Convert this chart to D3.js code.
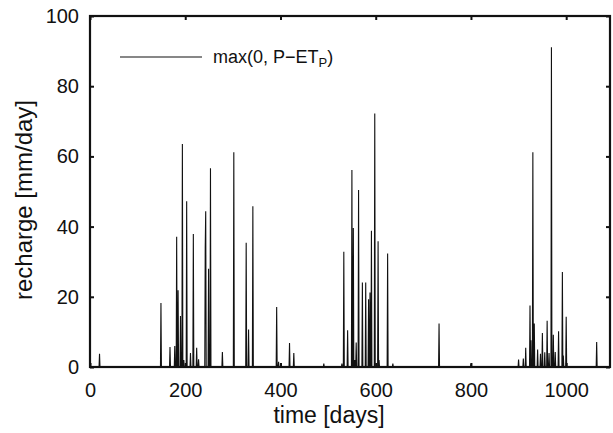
<!DOCTYPE html>
<html>
<head>
<meta charset="utf-8">
<script src="https://cdn.jsdelivr.net/npm/d3@7"></script>
<style>
  body { margin: 0; background: #fff; }
  svg text { font-family: "Liberation Sans", Arial, sans-serif; fill: #111; }
</style>
</head>
<body>
<div id="chart"></div>
<script>
// days with non-zero recharge, and the recharge on those days [mm/day]
const rainDays = [20,149,168,178,182,185,190,194,197,203,211,217,224,228,242,243,249,253,278,302,
  328,333,342,392,396,419,428,491,529,533,541,550,553,556,559,564,572,579,585,588,
  591,598,605,607,625,636,733,800,900,910,915,924,926,930,933,940,946,950,955,960,
  964,969,973,977,984,992,994,1000,1064];
const rechargeVals = [3.8,18.2,5.7,6,37.1,21.9,14.5,63.5,2,47.2,4,37.9,5.5,2.2,34,44.4,28,56.6,4.3,61.2,
  35.4,10.7,45.8,17.1,1.5,6.8,4,1,1,32.8,10.5,56.1,39.6,2,7,50.4,24.1,24.1,19.3,21.2,
  38.8,72.2,35.8,2,32.3,1,12.4,1,2.1,2.4,5.5,17.5,7.6,61.2,12.4,5,3.8,9.7,4.2,13.2,
  4,91.1,9.2,4.3,10.2,27.1,3.3,14.3,7.1];
const xTicks = [0, 200, 400, 600, 800, 1000];
const yTicks = [0, 20, 40, 60, 80, 100];
const nDays = 1092;

const width = 613, height = 433;
const margin = {top: 16, right: 3, bottom: 66, left: 90};
const innerW = width - margin.left - margin.right;
const innerH = height - margin.top - margin.bottom;

// full daily series, zero on days without recharge
const byDay = new Map(rainDays.map((d, i) => [d, rechargeVals[i]]));
const series = d3.range(0, nDays + 1).map(d => ({day: d, val: byDay.get(d) || 0}));

const svg = d3.select('#chart').append('svg')
    .attr('width', width).attr('height', height);
const g = svg.append('g').attr('transform', `translate(${margin.left},${margin.top})`);

const x = d3.scaleLinear().domain([0, nDays]).range([0, innerW]);
const y = d3.scaleLinear().domain([0, 100]).range([innerH, 0]);

// data line
const line = d3.line().x(d => x(d.day)).y(d => y(d.val));
g.append('path').datum(series)
    .attr('d', line)
    .attr('fill', 'none').attr('stroke', '#111').attr('stroke-width', 1.1);

// axes (ticks pointing inwards, box on)
const tickLen = 4;
const fmt = d3.format('d');
const axB = g.append('g').attr('transform', `translate(0,${innerH})`)
    .call(d3.axisBottom(x).tickValues(xTicks).tickSize(-tickLen).tickPadding(16).tickFormat(fmt));
const axT = g.append('g')
    .call(d3.axisTop(x).tickValues(xTicks).tickSize(-tickLen).tickFormat(''));
const axL = g.append('g')
    .call(d3.axisLeft(y).tickValues(yTicks).tickSize(-tickLen).tickPadding(11).tickFormat(fmt));
const axR = g.append('g').attr('transform', `translate(${innerW},0)`)
    .call(d3.axisRight(y).tickValues(yTicks).tickSize(-tickLen).tickFormat(''));
[axB, axT, axL, axR].forEach(a => {
  a.select('.domain').remove();
  a.selectAll('line').attr('stroke', '#111').attr('stroke-width', 2);
  a.selectAll('text').attr('font-size', 20).attr('fill', '#111');
});

g.append('rect').attr('width', innerW).attr('height', innerH)
    .attr('fill', 'none').attr('stroke', '#111').attr('stroke-width', 2.2);

// axis titles
svg.append('text')
    .attr('x', 329).attr('y', 423)
    .attr('text-anchor', 'middle').attr('font-size', 23)
    .text('time [days]');
svg.append('text')
    .attr('transform', 'translate(32,200) rotate(-90)')
    .attr('text-anchor', 'middle').attr('font-size', 24)
    .text('recharge [mm/day]');

// legend
const leg = svg.append('g').attr('transform', 'translate(120,57)');
leg.append('line').attr('x1', 0).attr('x2', 82).attr('y1', 0).attr('y2', 0)
    .attr('stroke', '#111').attr('stroke-width', 1.1);
const lt = leg.append('text').attr('x', 93).attr('y', 6).attr('font-size', 18);
lt.append('tspan').text('max(0, P\u2212ET');
lt.append('tspan').attr('dy', 4).attr('font-size', 13).text('P');
lt.append('tspan').attr('dy', -4).text(')');
</script>
</body>
</html>
